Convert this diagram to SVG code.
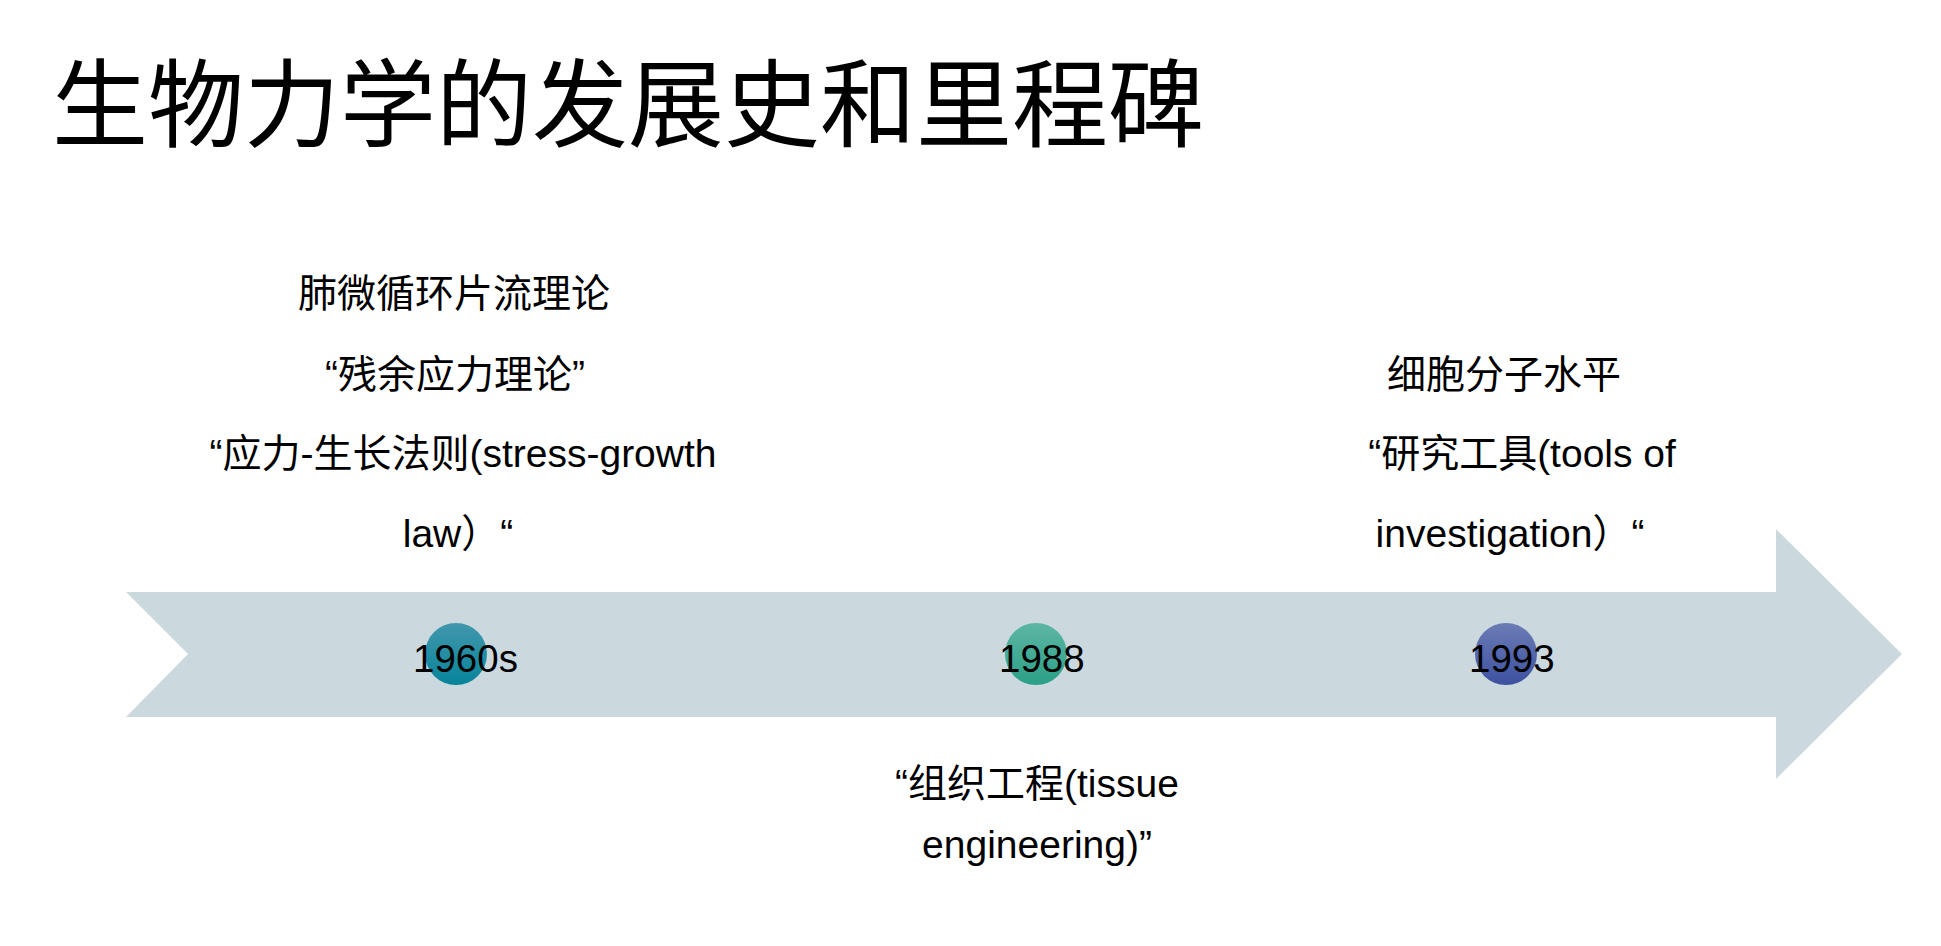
<svg xmlns="http://www.w3.org/2000/svg" width="1941" height="946" viewBox="0 0 1941 946">
<style>
.t{font-family:"Liberation Sans","Noto Sans CJK SC",sans-serif;font-size:39px;fill:#000;text-anchor:middle}
.title{font-family:"Noto Sans CJK SC",sans-serif;font-size:96px;fill:#000}
.yr{font-family:"Liberation Sans","Noto Sans CJK SC",sans-serif;font-size:38.5px;fill:#000}
</style>
<defs>
<linearGradient id="g1" x1="0" y1="0" x2="0" y2="1"><stop offset="0" stop-color="#4297ac"/><stop offset="1" stop-color="#07849a"/></linearGradient>
<linearGradient id="g2" x1="0" y1="0" x2="0" y2="1"><stop offset="0" stop-color="#5db6a3"/><stop offset="1" stop-color="#2b9f87"/></linearGradient>
<linearGradient id="g3" x1="0" y1="0" x2="0" y2="1"><stop offset="0" stop-color="#6b7cb4"/><stop offset="1" stop-color="#3d51a0"/></linearGradient>
</defs>
<rect width="1941" height="946" fill="#fff"/>
<text class="title" x="52" y="139">生物力学的发展史和里程碑</text>
<g id="timeline">
<polygon points="126,592 1776,592 1776,529 1902,654 1776,779 1776,717 126,717 188,654" fill="#cbd9df"/>
</g>
<g id="node-1960s">
<circle cx="456" cy="654" r="31" fill="url(#g1)"/>
<text class="yr" x="413" y="672">1960s</text>
<text class="t" x="454" y="307">肺微循环片流理论</text>
<text class="t" x="455" y="388">“残余应力理论”</text>
<text class="t" x="463" y="467">“应力-生长法则(stress-growth</text>
<text class="t" x="458" y="547">law）“</text>
</g>
<g id="node-1988">
<circle cx="1036" cy="654" r="31" fill="url(#g2)"/>
<text class="yr" x="999" y="672">1988</text>
<text class="t" x="1037" y="797">“组织工程(tissue</text>
<text class="t" x="1037" y="858">engineering)”</text>
</g>
<g id="node-1993">
<circle cx="1506" cy="654" r="31" fill="url(#g3)"/>
<text class="yr" x="1469" y="672">1993</text>
<text class="t" x="1504" y="388">细胞分子水平</text>
<text class="t" x="1522" y="467">“研究工具(tools of</text>
<text class="t" x="1510" y="547">investigation）“</text>
</g>
<g id="connectors"></g>
</svg>
